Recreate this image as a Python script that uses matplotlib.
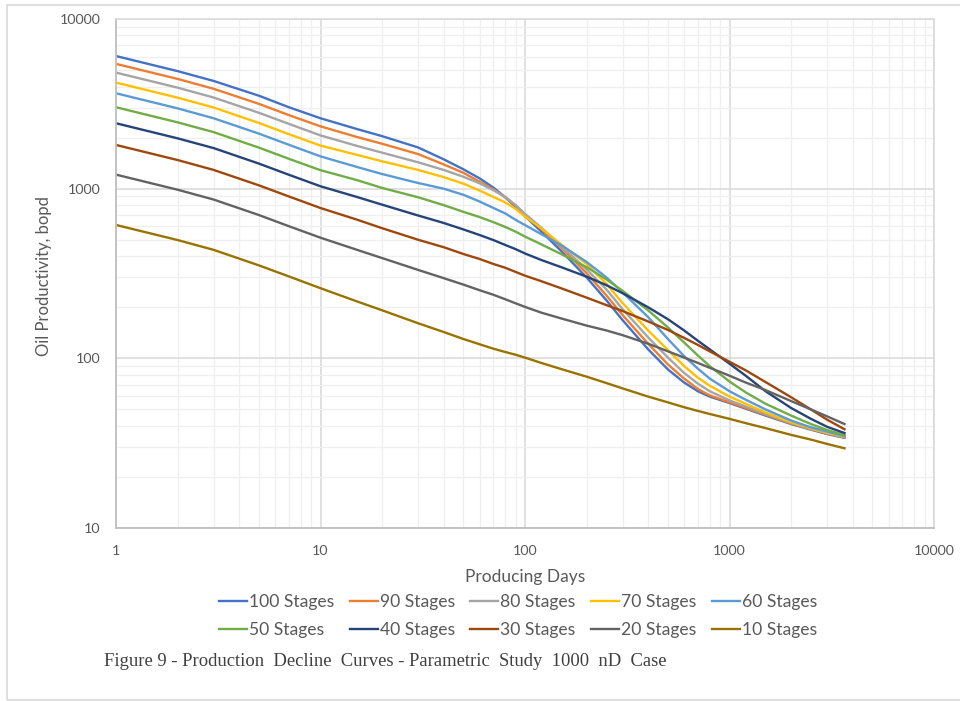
import numpy as np
import matplotlib
matplotlib.use('Agg')
import matplotlib.pyplot as plt
from matplotlib.patches import Rectangle
from matplotlib.ticker import LogLocator, NullFormatter

plt.rcParams['font.family'] = ['Lato', 'DejaVu Sans']

# producing days at which the rates were read
days = [1, 2, 3, 5, 7, 10, 15, 20, 30, 40, 50, 60, 70, 80, 90, 100, 120, 150,
        200, 250, 300, 400, 500, 600, 700, 800, 1000, 1200, 1500, 2000, 2500,
        3000, 3650]

# oil rate (bopd) for each number of frac stages
q100 = [6050, 4930, 4315, 3530, 3020, 2600, 2250, 2040, 1750, 1490, 1300, 1150,
        1015, 890, 780, 688, 560, 430, 300, 220, 168, 113, 86, 72, 64, 59.5,
        54.5, 50.5, 46, 41, 38, 35.8, 34.0]
q90 = [5440, 4435, 3880, 3160, 2715, 2330, 2020, 1840, 1600, 1390, 1240, 1100,
       990, 890, 795, 705, 580, 450, 318, 235, 180, 122, 92, 76, 66, 60.5,
       55, 51, 46.5, 41.3, 38.2, 36, 34.2]
q80 = [4830, 3940, 3445, 2800, 2410, 2060, 1790, 1630, 1430, 1290, 1175, 1075,
       980, 895, 800, 710, 590, 460, 335, 255, 195, 133, 101, 82, 71, 64,
       56.5, 52, 47, 41.6, 38.4, 36.2, 34.4]
q70 = [4220, 3440, 3010, 2440, 2095, 1795, 1585, 1450, 1290, 1170, 1070, 975,
       895, 830, 760, 685, 585, 470, 360, 275, 212, 146, 112, 90, 77, 69,
       59.5, 54, 48, 42, 38.7, 36.5, 34.6]
q60 = [3650, 2975, 2600, 2110, 1815, 1550, 1345, 1220, 1080, 1000, 920, 840,
       770, 715, 655, 610, 540, 465, 370, 300, 245, 175, 130, 103, 87, 76,
       64, 57, 50, 43, 39.2, 37, 34.8]
q50 = [3020, 2460, 2155, 1745, 1500, 1285, 1125, 1010, 890, 800, 730, 680,
       635, 595, 558, 522, 470, 412, 345, 292, 250, 192, 152, 124, 104, 90,
       73, 63, 54, 46, 41, 37.8, 35.3]
q40 = [2430, 1980, 1735, 1405, 1208, 1033, 895, 805, 695, 628, 575, 533,
       498, 466, 440, 415, 380, 345, 303, 270, 242, 200, 170, 146, 127, 113,
       93, 79, 64, 51, 44, 39.5, 36.3]
q30 = [1810, 1475, 1290, 1046, 900, 769, 658, 585, 500, 452, 412, 385,
       360, 342, 323, 307, 285, 259, 228, 206, 190, 165, 147, 132, 120, 110,
       95.5, 85, 72.5, 59, 50, 43.5, 38.2]
q20 = [1210, 986, 863, 699, 601, 514, 437, 390, 332, 297, 272, 252,
       237, 223, 211, 201, 186, 172, 156, 146, 137, 122, 110, 101, 94, 88,
       79, 72, 65, 56, 50, 45.5, 41]
q10 = [611, 498, 436, 353, 304, 259, 217, 192, 161, 143, 130, 121,
       114, 109, 105, 101, 94, 86.5, 78, 71.5, 66.5, 59.5, 55, 51.5, 49, 47,
       44, 41.5, 38.8, 35.4, 33.2, 31.3, 29.5]

labels = ['100 Stages', '90 Stages', '80 Stages', '70 Stages', '60 Stages',
          '50 Stages', '40 Stages', '30 Stages', '20 Stages', '10 Stages']
rates = [q100, q90, q80, q70, q60, q50, q40, q30, q20, q10]
colors = ['#4472C4', '#ED7D31', '#A5A5A5', '#FFC000', '#5B9BD5',
          '#70AD47', '#264478', '#9E480E', '#636363', '#997300']

W, H = 960, 701
fig = plt.figure(figsize=(W / 100, H / 100), dpi=100)

# light frame round the whole chart
fig.add_artist(Rectangle((7 / W, 1 - 700 / H), 980 / W, 695 / H,
                         transform=fig.transFigure, fill=False,
                         ec='#d9d9d9', lw=1.2, clip_on=False))

ax = fig.add_axes([116 / W, 1 - 528 / H, (934 - 116) / W, (528 - 19) / H])
lines = []
for lab, q, c in zip(labels, rates, colors):
    ln, = ax.plot(days, q, color=c, lw=1.7, label=lab)
    lines.append(ln)

ax.set_xscale('log')
ax.set_yscale('log')
ax.set_xlim(1, 10000)
ax.set_ylim(10, 10000)
dec = [1, 10, 100, 1000, 10000]
ax.set_xticks(dec)
ax.set_xticklabels([str(d) for d in dec])
ax.set_yticks(dec[1:])
ax.set_yticklabels([str(d) for d in dec[1:]])
for axis in (ax.xaxis, ax.yaxis):
    axis.set_minor_locator(LogLocator(base=10, subs=np.arange(2, 10)))
    axis.set_minor_formatter(NullFormatter())

ax.grid(which='major', color='#d9d9d9', lw=1.1)
ax.grid(which='minor', color='#efefef', lw=0.9)
ax.set_axisbelow(True)
ax.tick_params(which='both', length=0)
ax.tick_params(axis='x', pad=12, labelsize=10.3, labelcolor='#595959')
ax.tick_params(axis='y', pad=11, labelsize=10.3, labelcolor='#595959')
for s in ('left', 'bottom'):
    ax.spines[s].set_color('#bfbfbf')
    ax.spines[s].set_linewidth(1.3)
for s in ('top', 'right'):
    ax.spines[s].set_color('#d9d9d9')
    ax.spines[s].set_linewidth(1.1)

fig.text(44 / W, 1 - 276 / H, 'Oil Productivity, bopd', rotation=90,
         ha='center', va='center', fontsize=12, color='#595959')
fig.text(525 / W, 1 - 577 / H, 'Producing Days', ha='center', va='center',
         fontsize=12.5, color='#595959')

# legend fills column by column, so interleave the two rows
order = [0, 5, 1, 6, 2, 7, 3, 8, 4, 9]
leg = fig.legend([lines[i] for i in order], [labels[i] for i in order],
                 ncol=5, loc='center', bbox_to_anchor=(518 / W, 1 - 616 / H),
                 frameon=False, fontsize=12.6, handlelength=1.6,
                 handletextpad=0.1, columnspacing=0.9, labelspacing=0.7,
                 borderpad=0)
for t in leg.get_texts():
    t.set_color('#595959')

fig.text(104 / W, 1 - 662 / H,
         'Figure 9 - Production  Decline  Curves - Parametric  Study  1000  nD  Case',
         ha='left', va='center', fontsize=13.4, color='#404040',
         family=['Liberation Serif', 'DejaVu Serif'])

fig.savefig('out.png', dpi=100)
